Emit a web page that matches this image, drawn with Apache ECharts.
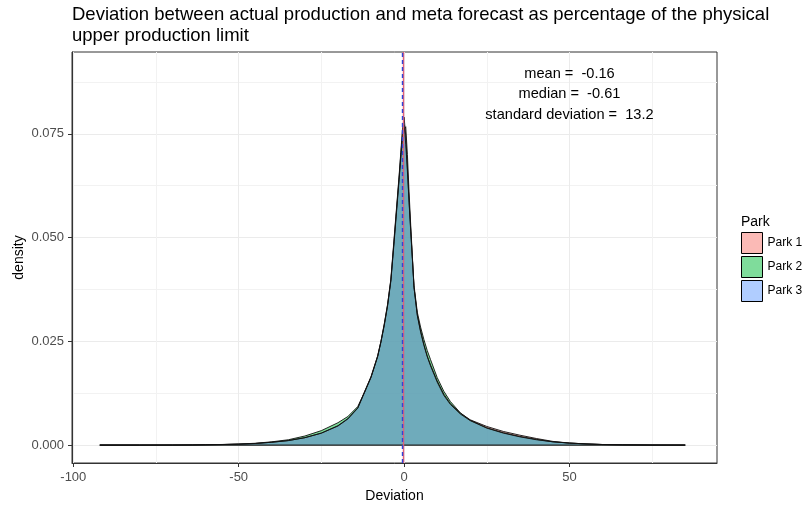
<!DOCTYPE html>
<html>
<head>
<meta charset="utf-8">
<script src="https://cdn.jsdelivr.net/npm/echarts@6/dist/echarts.min.js"></script>
<style>
  html, body { margin: 0; padding: 0; background: #fff; }
  #chart { width: 805px; height: 507px; }
</style>
</head>
<body>
<div id="chart"></div>
<script>
// deviation grid (x) and density for each park
var deviation = [-92, -80, -70, -64, -60, -55, -50, -45, -40, -35, -30, -25, -20, -17, -14, -12, -10, -8, -7, -6, -5, -4, -3, -2.5, -2, -1.5, -1, -0.5, 0, 0.5, 1, 1.5, 2, 2.5, 3, 4, 5, 6, 7, 8, 10, 12, 14, 17, 20, 25, 30, 35, 40, 45, 50, 55, 60, 66, 75, 85];
var park1 = [0.00002, 0.00002, 0.00003, 0.00005, 0.00009, 0.00014, 0.00024, 0.0004, 0.0007, 0.0011, 0.0018, 0.0029, 0.0046, 0.0063, 0.0089, 0.0126, 0.0163, 0.0213, 0.0248, 0.0288, 0.0335, 0.0395, 0.0490, 0.0540, 0.0590, 0.0640, 0.0690, 0.0735, 0.0760, 0.0767, 0.0700, 0.0610, 0.0530, 0.0455, 0.0380, 0.0314, 0.0275, 0.0242, 0.0215, 0.0193, 0.0155, 0.0123, 0.0100, 0.0077, 0.0061, 0.0045, 0.0033, 0.0024, 0.0016, 0.0009, 0.0005, 0.0003, 0.00015, 0.00008, 0.00003, 0.00002];
var park2 = [0.00002, 0.00002, 0.00003, 0.00006, 0.0001, 0.00016, 0.00027, 0.00045, 0.0008, 0.0013, 0.0022, 0.0035, 0.0054, 0.0069, 0.0093, 0.0127, 0.0164, 0.0214, 0.0250, 0.0292, 0.0338, 0.0398, 0.0495, 0.0545, 0.0595, 0.0645, 0.0700, 0.0750, 0.0772, 0.0725, 0.0660, 0.0585, 0.0515, 0.0450, 0.0385, 0.0320, 0.0284, 0.0254, 0.0228, 0.0206, 0.0163, 0.0130, 0.0105, 0.0078, 0.0060, 0.0042, 0.0030, 0.0021, 0.0014, 0.0008, 0.0005, 0.0003, 0.00015, 0.00008, 0.00003, 0.00002];
var park3 = [0.00002, 0.00002, 0.00003, 0.00006, 0.0001, 0.00015, 0.00025, 0.0004, 0.0007, 0.0011, 0.0018, 0.0029, 0.0047, 0.0064, 0.0090, 0.0128, 0.0165, 0.0215, 0.0250, 0.0290, 0.0338, 0.0400, 0.0500, 0.0550, 0.0600, 0.0650, 0.0705, 0.0760, 0.0790, 0.0745, 0.0670, 0.0590, 0.0520, 0.0450, 0.0380, 0.0312, 0.0272, 0.0240, 0.0213, 0.0191, 0.0152, 0.0120, 0.0098, 0.0075, 0.0059, 0.0041, 0.0029, 0.0020, 0.0013, 0.0008, 0.0005, 0.0003, 0.00015, 0.00008, 0.00003, 0.00002];
var parkNames = ['Park 1', 'Park 2', 'Park 3'];

// summary lines and annotation text
var meanDev = -0.16;
var medianDev = -0.61;
var statLines = ['mean =  -0.16', 'median =  -0.61', 'standard deviation =  13.2'];
var statY = [0.0894, 0.0846, 0.0796];
var statX = 50;

// axis ticks (major with labels, minor grid only)
var xTicks = [-100, -50, 0, 50];
var xMinor = [-75, -25, 25, 75];
var yTicks = [0, 0.025, 0.05, 0.075];
var yMinor = [0.0125, 0.0375, 0.0625, 0.0875];

var fills = ['rgba(248,118,109,0.5)', 'rgba(0,186,56,0.5)', 'rgba(97,156,255,0.5)'];
var keyFills = ['#fbbab6', '#7fdc9b', '#b0cdff'];
var FONT = 'Liberation Sans, Arial, sans-serif';

var chart = echarts.init(document.getElementById('chart'));

var parks = [park1, park2, park3];
var series = parks.map(function (vals, i) {
  return {
    name: parkNames[i],
    type: 'line',
    data: deviation.map(function (x, j) { return [x, vals[j]]; }),
    symbol: 'none',
    smooth: false,
    itemStyle: { color: fills[i] },
    lineStyle: { color: '#111', width: 0.9 },
    areaStyle: { color: fills[i], opacity: 1 },
    silent: true
  };
});

// bottom outline of the density polygons
series.unshift({
  name: 'base',
  type: 'line',
  data: [[deviation[0], 0], [deviation[deviation.length - 1], 0]],
  symbol: 'none',
  lineStyle: { color: '#222', width: 1.2 },
  silent: true
});

series[series.length - 1].markLine = {
  silent: true,
  symbol: 'none',
  label: { show: false },
  data: [
    { xAxis: meanDev, lineStyle: { color: '#e0607a', width: 1.4, type: 'solid' } },
    { xAxis: medianDev, lineStyle: { color: '#3045d6', width: 1.4, type: [4, 3] } }
  ]
};

var xMin = -100.4, xMax = 94.6, yMin = -0.0043, yMax = 0.0947;

function minorAxis(lo, hi, vals, pos) {
  return {
    type: 'value', min: lo, max: hi, position: pos,
    axisLine: { show: false },
    axisTick: { show: false, customValues: vals },
    axisLabel: { show: false, customValues: vals },
    splitLine: { show: true, lineStyle: { color: '#f2f2f2', width: 1 } }
  };
}

chart.setOption({
  animation: false,
  backgroundColor: '#fff',
  title: {
    text: 'Deviation between actual production and meta forecast as percentage of the physical\nupper production limit',
    left: 72,
    top: 4,
    padding: 0,
    textStyle: { fontFamily: FONT, fontSize: 18.5, fontWeight: 'normal', color: '#000', lineHeight: 21 }
  },
  grid: {
    left: 72, right: 88, top: 52, bottom: 44,
    outerBoundsMode: 'none',
    show: true, borderColor: '#333', borderWidth: 1, backgroundColor: 'transparent'
  },
  legend: {
    orient: 'vertical',
    left: 741,
    top: 232,
    padding: 0,
    itemWidth: 21,
    itemHeight: 21,
    itemGap: 2,
    itemTextGap: 5,
    selectedMode: false,
    textStyle: { fontFamily: FONT, fontSize: 12, color: '#000' },
    data: parkNames.map(function (n, i) {
      return { name: n, icon: 'rect', itemStyle: { color: keyFills[i], borderColor: '#000', borderWidth: 1 } };
    })
  },
  xAxis: [{
    type: 'value',
    min: xMin, max: xMax,
    name: 'Deviation',
    nameLocation: 'middle',
    nameGap: 26,
    nameMoveOverlap: false,
    nameTextStyle: { fontFamily: FONT, fontSize: 14, color: '#000' },
    axisLine: { show: true, onZero: false, lineStyle: { color: '#333' } },
    axisTick: { show: true, length: 4, customValues: xTicks, lineStyle: { color: '#333' } },
    axisLabel: { margin: 8, fontFamily: FONT, fontSize: 13, color: '#4d4d4d', customValues: xTicks },
    splitLine: { show: true, lineStyle: { color: '#ebebeb', width: 1 } }
  }, minorAxis(xMin, xMax, xMinor, 'bottom')],
  yAxis: [{
    type: 'value',
    min: yMin, max: yMax,
    name: 'density',
    nameLocation: 'middle',
    nameRotate: 90,
    nameGap: 46,
    nameMoveOverlap: false,
    nameTextStyle: { fontFamily: FONT, fontSize: 14, color: '#000' },
    axisLine: { show: true, onZero: false, lineStyle: { color: '#333' } },
    axisTick: { show: true, length: 4, customValues: yTicks, lineStyle: { color: '#333' } },
    axisLabel: {
      margin: 8, fontFamily: FONT, fontSize: 13, color: '#4d4d4d', customValues: yTicks,
      formatter: function (v) { return v.toFixed(3); }
    },
    splitLine: { show: true, lineStyle: { color: '#ebebeb', width: 1 } }
  }, minorAxis(yMin, yMax, yMinor, 'left')],
  series: series
});

// annotation text and legend title
var graphics = statLines.map(function (t, i) {
  var p = chart.convertToPixel({ xAxisIndex: 0, yAxisIndex: 0 }, [statX, statY[i]]);
  return {
    type: 'text', x: p[0], y: p[1],
    style: { text: t, fontFamily: FONT, fontSize: 14.6, fill: '#000', align: 'center', verticalAlign: 'middle' }
  };
});
graphics.push({
  type: 'text', x: 741, y: 222,
  style: { text: 'Park', fontFamily: FONT, fontSize: 14, fill: '#000', align: 'left', verticalAlign: 'middle' }
});
chart.setOption({ graphic: graphics });
</script>
</body>
</html>
